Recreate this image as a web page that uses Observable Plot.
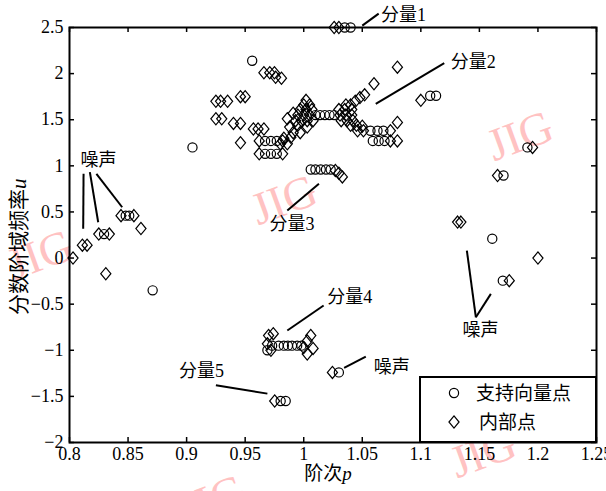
<!DOCTYPE html>
<html><head><meta charset="utf-8">
<script src="https://cdn.jsdelivr.net/npm/d3@7"></script>
<script src="https://cdn.jsdelivr.net/npm/@observablehq/plot@0.6"></script>
<style>
body{margin:0;background:#fff;}
#wrap{position:relative;width:606px;height:491px;overflow:hidden;}
#wrap svg{position:absolute;left:0;top:0;z-index:1;}
.wm{position:absolute;z-index:0;font-family:"Liberation Serif",serif;font-size:46px;color:#ffc2c2;white-space:nowrap;transform:translate(-50%,-50%) rotate(-20deg);line-height:1;}
#legend{position:absolute;z-index:2;left:419px;top:376px;width:174px;height:63px;border:2px solid #000;background:#fff;}
.lgtext{position:absolute;font-family:"Liberation Serif","Noto Sans CJK SC",serif;font-size:19px;line-height:1;transform:translateY(-50%);white-space:nowrap;}
.lgsym{position:absolute;}
</style>
</head><body>
<div id="wrap"></div>
<script>
// ---- data ----
const xTicks = [0.8, 0.85, 0.9, 0.95, 1, 1.05, 1.1, 1.15, 1.2, 1.25];
const xTickLabels = ["0.8", "0.85", "0.9", "0.95", "1", "1.05", "1.1", "1.15", "1.2", "1.25"];
const yTicks = [-2, -1.5, -1, -0.5, 0, 0.5, 1, 1.5, 2, 2.5];
const yTickLabels = ["\u22122", "\u22121.5", "\u22121", "\u22120.5", "0", "0.5", "1", "1.5", "2", "2.5"];

// support-vector points (circles): [p, u]
const supportPoints = [
  [0.956, 2.14], [0.905, 1.2],
  [1.035, 2.5], [1.040, 2.5],
  [0.967, 1.27], [0.972, 1.27], [0.977, 1.27], [0.967, 1.13], [0.972, 1.13], [0.977, 1.13],
  [1.010, 1.55], [1.014, 1.55], [1.018, 1.55], [1.022, 1.55], [1.026, 1.55],
  [1.057, 1.38], [1.063, 1.38], [1.068, 1.38], [1.059, 1.27], [1.064, 1.27], [1.069, 1.27],
  [1.108, 1.76], [1.113, 1.76],
  [1.006, 0.96], [1.010, 0.96], [1.0145, 0.96], [1.019, 0.96], [1.023, 0.96],
  [1.191, 1.2], [1.1706, 0.895], [1.161, 0.21], [1.170, -0.245],
  [0.8295, 0.26], [0.848, 0.46], [0.851, 0.46], [0.871, -0.35],
  [0.969, -1.0], [0.973, -0.95], [0.9786, -0.95], [0.983, -0.95], [0.9865, -0.95], [0.990, -0.95], [0.9944, -0.95], [0.998, -0.95],
  [1.030, -1.24],
  [0.9803, -1.55], [0.9846, -1.55]
];

// interior points (diamonds): [p, u]
const interiorPoints = [
  [1.026, 2.5], [1.030, 2.5],
  [0.966, 2.01], [0.971, 2.01], [0.975, 2.01], [0.976, 1.96], [0.981, 1.95],
  [0.925, 1.70], [0.929, 1.70], [0.935, 1.70], [0.946, 1.75], [0.950, 1.75],
  [0.925, 1.51], [0.930, 1.51], [0.940, 1.46], [0.946, 1.46], [0.957, 1.40], [0.961, 1.40], [0.966, 1.40], [0.946, 1.25],
  [0.962, 1.27], [0.982, 1.27], [0.962, 1.13], [0.982, 1.13],
  [0.980, 1.24], [0.986, 1.24], [0.983, 1.30], [0.989, 1.31], [0.991, 1.36], [0.997, 1.36], [0.988, 1.42], [1.003, 1.42],
  [0.986, 1.51], [0.991, 1.57], [1.002, 1.71], [1.0, 1.66], [1.005, 1.66],
  [0.995, 1.55], [1.0, 1.55], [1.005, 1.55], [1.031, 1.55], [1.036, 1.55], [1.041, 1.55],
  [0.997, 1.61], [1.002, 1.61], [1.007, 1.61], [1.030, 1.61], [1.035, 1.61], [1.041, 1.61],
  [0.993, 1.49], [0.998, 1.49], [1.003, 1.49], [1.008, 1.49], [1.032, 1.49], [1.037, 1.49], [1.042, 1.49],
  [0.995, 1.44], [1.040, 1.44], [1.045, 1.44], [1.050, 1.43],
  [1.036, 1.66], [1.040, 1.66], [1.044, 1.70], [1.048, 1.74], [1.052, 1.77], [1.060, 1.89], [1.080, 2.07],
  [1.046, 1.38], [1.051, 1.38], [1.074, 1.38], [1.074, 1.27], [1.080, 1.47], [1.080, 1.27],
  [1.100, 1.71],
  [1.027, 0.95], [1.030, 0.92], [1.033, 0.88],
  [1.1954, 1.2], [1.1655, 0.895], [1.1314, 0.39], [1.1342, 0.39], [1.2, 0.0], [1.1755, -0.245],
  [0.803, 0.0], [0.811, 0.14], [0.815, 0.14], [0.825, 0.26], [0.834, 0.26], [0.844, 0.46], [0.855, 0.46], [0.861, 0.32], [0.831, -0.17],
  [0.970, -0.84], [0.974, -0.82], [0.972, -1.0], [0.969, -0.93], [1.006, -0.84], [1.003, -0.9], [1.0, -0.97], [1.008, -0.98], [1.003, -1.04],
  [1.0245, -1.24],
  [0.9752, -1.55]
];

// annotation leader lines: [p1, u1, p2, u2]
const annotationLines = [
  [1.050, 2.52, 1.064, 2.65],
  [1.0615, 1.672, 1.12, 2.113],
  [0.986, 0.515, 1.013, 0.805],
  [0.986, -0.786, 1.017, -0.515],
  [1.0345, -1.19, 1.053, -1.068],
  [0.925, -1.38, 0.969, -1.47],
  [0.812, 0.913, 0.8117, 0.317],
  [0.8174, 0.931, 0.8245, 0.388],
  [0.823, 0.913, 0.845, 0.551],
  [1.147, -0.642, 1.1393, 0.081],
  [1.147, -0.642, 1.1598, -0.388]
];

// annotation labels
const annotationLabels = ["分量1", "分量2", "分量3", "分量4", "噪声", "分量5", "噪声", "噪声"];
const annotationP = [1.066, 1.1256, 0.990, 1.020, 1.0598, 0.9128, 0.8094, 1.151];
const annotationU = [2.63, 2.12, 0.37, -0.425, -1.18, -1.23, 1.06, -0.786];
const annotationAnchor = ["start", "start", "middle", "start", "start", "middle", "start", "middle"];

const xLabel = "阶次p";
const yLabel = "分数阶域频率u";
const legendLabels = ["支持向量点", "内部点"];
const watermarkText = "JIG";

// ---- layout ----
const W = 606, H = 491, mL = 69, mR = 10, mT = 27, mB = 49;
const plotW = W - mL - mR, plotH = H - mT - mB;
const FONT = '"Liberation Serif","Noto Sans CJK SC",serif';

const diamondSym = {
  draw(ctx, size) {
    const r = Math.sqrt(size / Math.PI);
    const w = r * 1.1, h = r * 1.32;
    ctx.moveTo(0, -h); ctx.lineTo(w, 0); ctx.lineTo(0, h); ctx.lineTo(-w, 0); ctx.closePath();
  }
};

const annots = annotationLabels.map((t, i) => ({label: t, p: annotationP[i], u: annotationU[i], anchor: annotationAnchor[i]}));
const fmt = (ticks, labels) => d => labels[ticks.findIndex(t => Math.abs(t - d) < 1e-9)];

const chart = Plot.plot({
  width: W, height: H,
  marginLeft: mL, marginRight: mR, marginTop: mT, marginBottom: mB,
  x: {domain: [0.8, 1.25]},
  y: {domain: [-2, 2.5]},
  style: {fontFamily: FONT, fontSize: "18px", color: "#000", background: "transparent", overflow: "visible"},
  marks: [
    Plot.axisX(xTicks, {tickSize: 0, tickPadding: 5, tickFormat: fmt(xTicks, xTickLabels), label: null}),
    Plot.axisY(yTicks, {tickSize: 0, tickPadding: 6, tickFormat: fmt(yTicks, yTickLabels), label: null}),
    Plot.tickX(xTicks, {x: d => d, stroke: "#000", strokeWidth: 1.5, insetTop: plotH - 5}),
    Plot.tickX(xTicks, {x: d => d, stroke: "#000", strokeWidth: 1.5, insetBottom: plotH - 5}),
    Plot.tickY(yTicks, {y: d => d, stroke: "#000", strokeWidth: 1.5, insetRight: plotW - 5}),
    Plot.tickY(yTicks, {y: d => d, stroke: "#000", strokeWidth: 1.5, insetLeft: plotW - 5}),
    Plot.frame({stroke: "#000", strokeWidth: 2}),
    Plot.dot(interiorPoints, {x: d => d[0], y: d => d[1], symbol: diamondSym, r: 4.6, stroke: "#000", strokeWidth: 1.2, fill: "none"}),
    Plot.dot(supportPoints, {x: d => d[0], y: d => d[1], symbol: "circle", r: 4.6, stroke: "#000", strokeWidth: 1.2, fill: "none"}),
    Plot.link(annotationLines, {x1: d => d[0], y1: d => d[1], x2: d => d[2], y2: d => d[3], stroke: "#000", strokeWidth: 2}),
    Plot.text(annots.filter(d => d.anchor === "start"), {x: "p", y: "u", text: "label", textAnchor: "start", fontSize: 18}),
    Plot.text(annots.filter(d => d.anchor === "middle"), {x: "p", y: "u", text: "label", textAnchor: "middle", fontSize: 18}),
    Plot.text([yLabel], {text: d => d, frameAnchor: "left", dx: -50, dy: 80, rotate: -90, fontSize: 21}),
    Plot.text([xLabel], {text: d => d, frameAnchor: "bottom", dx: -5, dy: 37, fontSize: 19})
  ]
});

// italic variable letters in axis titles
d3.select(chart).selectAll("text").each(function() {
  const t = this.textContent;
  if (t === yLabel || t === xLabel) {
    const sel = d3.select(this);
    sel.text(null);
    sel.append("tspan").text(t.slice(0, -1));
    sel.append("tspan").attr("font-style", "italic").text(t.slice(-1));
  }
});

const wrap = document.getElementById("wrap");
wrap.appendChild(chart);

// watermarks
[[284, 200], [40, 255], [520, 136], [483, 453], [212, 500]].forEach(([x, y]) => {
  const d = document.createElement("div");
  d.className = "wm";
  d.style.left = x + "px"; d.style.top = y + "px";
  d.textContent = watermarkText;
  wrap.appendChild(d);
});

// legend
const lg = document.createElement("div");
lg.id = "legend";
wrap.appendChild(lg);
function addSym(kind, cx, cy) {
  const s = d3.create("svg").attr("class", "lgsym").attr("width", 16).attr("height", 18)
    .style("left", (cx - 8) + "px").style("top", (cy - 9) + "px");
  if (kind === "circle") s.append("circle").attr("cx", 8).attr("cy", 9).attr("r", 4.6);
  else s.append("path").attr("d", "M8,2.9L13.06,9L8,15.1L2.94,9Z");
  s.selectAll("*").attr("fill", "none").attr("stroke", "#000").attr("stroke-width", 1.2);
  s.style("position", "absolute").style("z-index", 3);
  wrap.appendChild(s.node());
}
function addText(t, x, y) {
  const d = document.createElement("div");
  d.className = "lgtext";
  d.style.left = x + "px"; d.style.top = y + "px"; d.style.zIndex = 3;
  d.textContent = t;
  wrap.appendChild(d);
}
addSym("circle", 453.5, 393);
addText(legendLabels[0], 476, 393);
addSym("diamond", 453.5, 421.5);
addText(legendLabels[1], 479, 421.5);
</script>
</body></html>
